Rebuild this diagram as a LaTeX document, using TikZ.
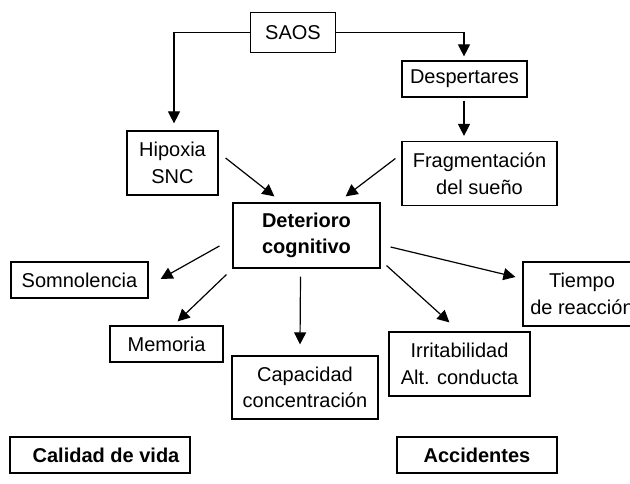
\documentclass[tikz,border=0pt]{standalone}
\usepackage{fontspec}
\setmainfont{Liberation Sans}
\usetikzlibrary{arrows.meta,calc}
\begin{document}
\begin{tikzpicture}[x=1pt,y=-1pt,
  box/.style={draw,line width=1.2pt,inner sep=0pt,align=center,
    font=\fontsize{20}{26.5}\selectfont},
  bbox/.style={box,font=\fontsize{20}{26.5}\selectfont\bfseries},
  arr/.style={line width=1.2pt,-{Triangle[length=12pt,width=12pt]}}]
\clip (0,0) rectangle (630,484);
\fill[white] (0,0) rectangle (630,484);
\node[box,minimum width=85pt,minimum height=40pt] (saos) at (293,32.5) {SAOS};
\node[box,minimum width=125pt,minimum height=36pt] (desp) at (464.5,79) {Despertares};
\node[box,minimum width=91pt,minimum height=64pt] (hip) at (172.5,163) {Hipoxia\\SNC};
\node[box,minimum width=155pt,minimum height=64pt] (frag) at (479.5,173.5) {Fragmentación\\del sueño};
\node[bbox,minimum width=147pt,minimum height=65pt] (det) at (306.5,235.5) {Deterioro\\cognitivo};
\node[box,minimum width=137pt,minimum height=36pt] (somn) at (79.5,280) {Somnolencia};
\node[box,minimum width=118pt,minimum height=64pt] (tie) at (582,294) {Tiempo\\de reacción};
\node[box,minimum width=113pt,minimum height=36pt] (mem) at (166.5,344) {Memoria};
\node[box,minimum width=141pt,minimum height=64pt] (irr) at (459.5,364) {Irritabilidad\\Alt. conducta};
\node[box,minimum width=146pt,minimum height=63pt] (cap) at (305,387.5) {Capacidad\\concentración};
\node[bbox,minimum width=180pt,minimum height=36pt] (cal) at (100,455) {\hspace*{12pt}Calidad de vida};
\node[bbox,minimum width=160pt,minimum height=36pt] (acc) at (477,455) {Accidentes};
\coordinate (hipin) at ($(hip.north)+(1.5,0)$);
\coordinate (despin) at ($(desp.north)+(-0.5,0)$);
\coordinate (despout) at ($(desp.south)+(-0.5,0)$);
\coordinate (fragin) at (despout |- frag.north);
\draw[arr,shorten >=7pt] (saos.west) -| (hipin);
\draw[arr,shorten >=4pt] (saos.east) -| (despin);
\draw[arr,shorten <=3pt,shorten >=5pt] (despout) -- (fragin);
\draw[arr] ($(hip.east)+(7,-5)$) -- ($(det.north west)+(42,-6)$);
\draw[arr] ($(frag.west)+(-6,-15)$) -- ($(det.north east)+(-35,-6)$);
\draw[arr] ($(det.west)+(-13,10.5)$) -- ($(somn.east)+(12,-1)$);
\draw[arr] ($(det.south west)+(-6,6)$) -- ($(mem.north east)+(-46,-4)$);
\draw[arr] ($(det.south)+(-6,8)$) -- ($(cap.north)+(-5,-11)$);
\draw[arr] ($(det.south east)+(6,-3)$) -- ($(irr.north west)+(61,-9)$);
\draw[arr] ($(det.east)+(10,11.5)$) -- ($(tie.west)+(-7,-17)$);
\end{tikzpicture}
\end{document}
